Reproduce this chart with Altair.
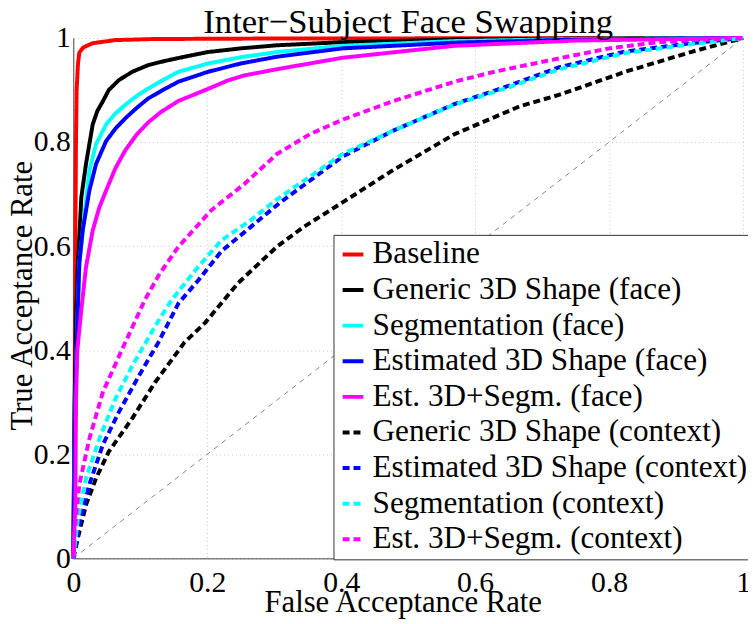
import altair as alt
import pandas as pd

series_names = [
    "Baseline",
    "Generic 3D Shape (face)",
    "Segmentation (face)",
    "Estimated 3D Shape (face)",
    "Est. 3D+Segm. (face)",
    "Generic 3D Shape (context)",
    "Estimated 3D Shape (context)",
    "Segmentation (context)",
    "Est. 3D+Segm. (context)",
]
series_colors = ["#ff0000", "#000000", "#00ffff", "#0000ff", "#ff00ff",
                 "#000000", "#0000ff", "#00ffff", "#ff00ff"]
series_dashes = [[1, 0]] * 5 + [[7, 4]] * 4

baseline_x = [0, 0.002, 0.003, 0.004, 0.005, 0.007, 0.009, 0.015, 0.029, 0.063, 0.12, 0.3, 1.0]
baseline_y = [0, 0.3, 0.6, 0.8, 0.9, 0.95, 0.972, 0.982, 0.99, 0.996, 0.998, 0.999, 1.0]

gen_face_x = [0, 0.002, 0.0044, 0.007, 0.012, 0.019, 0.029, 0.036, 0.044, 0.053, 0.068, 0.088, 0.112, 0.137, 0.166, 0.201, 0.25, 0.304, 0.402, 0.569, 0.75, 1.0]
gen_face_y = [0, 0.3, 0.478, 0.567, 0.694, 0.758, 0.834, 0.86, 0.878, 0.9, 0.919, 0.935, 0.948, 0.956, 0.964, 0.973, 0.98, 0.986, 0.992, 0.997, 0.999, 1.0]

seg_face_x = [0, 0.003, 0.006, 0.009, 0.017, 0.024, 0.034, 0.049, 0.063, 0.078, 0.095, 0.112, 0.135, 0.157, 0.201, 0.25, 0.304, 0.402, 0.569, 0.75, 1.0]
seg_face_y = [0, 0.3, 0.45, 0.567, 0.663, 0.745, 0.796, 0.834, 0.855, 0.872, 0.889, 0.903, 0.92, 0.935, 0.951, 0.963, 0.973, 0.985, 0.994, 0.998, 1.0]

est_face_x = [0, 0.003, 0.006, 0.009, 0.014, 0.024, 0.034, 0.049, 0.063, 0.078, 0.095, 0.112, 0.135, 0.157, 0.201, 0.25, 0.304, 0.402, 0.569, 0.75, 1.0]
est_face_y = [0, 0.3, 0.45, 0.567, 0.630, 0.707, 0.758, 0.802, 0.826, 0.846, 0.866, 0.884, 0.901, 0.916, 0.935, 0.951, 0.964, 0.980, 0.991, 0.997, 1.0]

estseg_face_x = [0, 0.003, 0.004, 0.006, 0.012, 0.019, 0.029, 0.039, 0.05, 0.063, 0.078, 0.095, 0.112, 0.13, 0.157, 0.201, 0.23, 0.255, 0.304, 0.402, 0.569, 0.75, 1.0]
estseg_face_y = [0, 0.1, 0.3, 0.4, 0.478, 0.56, 0.63, 0.675, 0.71, 0.75, 0.785, 0.815, 0.838, 0.857, 0.879, 0.902, 0.918, 0.928, 0.940, 0.962, 0.985, 0.995, 1.0]

gen_ctx_x = [0, 0.007, 0.019, 0.034, 0.053, 0.088, 0.122, 0.166, 0.197, 0.246, 0.304, 0.344, 0.402, 0.476, 0.569, 0.667, 0.726, 0.824, 0.922, 1.0]
gen_ctx_y = [0, 0.04, 0.103, 0.154, 0.205, 0.269, 0.338, 0.415, 0.453, 0.529, 0.599, 0.637, 0.684, 0.745, 0.815, 0.869, 0.891, 0.935, 0.973, 1.0]

est_ctx_x = [0, 0.009, 0.024, 0.044, 0.068, 0.098, 0.127, 0.157, 0.187, 0.221, 0.265, 0.309, 0.402, 0.476, 0.569, 0.643, 0.726, 0.824, 0.922, 1.0]
est_ctx_y = [0, 0.065, 0.142, 0.218, 0.281, 0.351, 0.415, 0.49, 0.535, 0.59, 0.637, 0.684, 0.772, 0.821, 0.873, 0.905, 0.944, 0.974, 0.99, 1.0]

seg_ctx_x = [0, 0.007, 0.019, 0.039, 0.063, 0.088, 0.122, 0.147, 0.187, 0.221, 0.265, 0.304, 0.402, 0.476, 0.569, 0.643, 0.726, 0.824, 0.922, 1.0]
seg_ctx_y = [0, 0.078, 0.154, 0.230, 0.307, 0.370, 0.446, 0.497, 0.561, 0.611, 0.650, 0.690, 0.777, 0.821, 0.872, 0.902, 0.940, 0.971, 0.988, 1.0]

estseg_ctx_x = [0, 0.002, 0.009, 0.024, 0.044, 0.073, 0.107, 0.128, 0.157, 0.206, 0.255, 0.304, 0.353, 0.402, 0.476, 0.569, 0.628, 0.726, 0.8, 0.873, 0.971, 1.0]
estseg_ctx_y = [0, 0.053, 0.142, 0.230, 0.319, 0.402, 0.497, 0.545, 0.599, 0.669, 0.719, 0.777, 0.815, 0.843, 0.878, 0.916, 0.935, 0.961, 0.980, 0.992, 0.999, 1.0]

all_x = [baseline_x, gen_face_x, seg_face_x, est_face_x, estseg_face_x,
         gen_ctx_x, est_ctx_x, seg_ctx_x, estseg_ctx_x]
all_y = [baseline_y, gen_face_y, seg_face_y, est_face_y, estseg_face_y,
         gen_ctx_y, est_ctx_y, seg_ctx_y, estseg_ctx_y]

tick_values = [0, 0.2, 0.4, 0.6, 0.8, 1.0]

rows = []
for name, xs, ys in zip(series_names, all_x, all_y):
    for i, (xv, yv) in enumerate(zip(xs, ys)):
        rows.append({"series": name, "far": xv, "tar": yv, "idx": i})
df = pd.DataFrame(rows)

diag = pd.DataFrame({"x": [0.0], "y": [0.0], "x2": [1.0], "y2": [1.0]})

FONT = "Liberation Serif"

xscale = alt.Scale(domain=[0, 1], nice=False, zero=False)
yscale = alt.Scale(domain=[0, 1], nice=False, zero=False)

x_axis = alt.Axis(values=tick_values, format="~g", title="False Acceptance Rate",
                  labelPadding=9, titleX=333, titleY=45, titleBaseline="middle",
                  titleAlign="center")
y_axis = alt.Axis(values=tick_values, format="~g", title="True Acceptance Rate",
                  labelPadding=3, titleX=-51, titleY=260, titleAngle=270,
                  titleBaseline="middle", titleAlign="center")

diag_layer = alt.Chart(diag).mark_rule(
    color="#666666", strokeWidth=0.8, strokeDash=[5, 5]
).encode(
    x=alt.X("x:Q", scale=xscale, axis=x_axis),
    y=alt.Y("y:Q", scale=yscale, axis=y_axis),
    x2="x2:Q",
    y2="y2:Q",
)

legend = alt.Legend(
    orient="none", legendX=263, legendY=199, title=None, direction="vertical",
    labelFont=FONT, labelFontSize=31.5, labelLimit=600, labelColor="black",
    symbolType="stroke", symbolSize=441, symbolStrokeWidth=4,
    strokeColor="#333333", fillColor="white", padding=4, rowPadding=3,
    labelOffset=4, cornerRadius=0,
)

lines = alt.Chart(df).mark_line(strokeWidth=4, strokeCap="butt", strokeJoin="round").encode(
    x=alt.X("far:Q", scale=xscale, axis=x_axis),
    y=alt.Y("tar:Q", scale=yscale, axis=y_axis),
    color=alt.Color("series:N", scale=alt.Scale(domain=series_names, range=series_colors),
                    legend=legend, sort=series_names),
    strokeDash=alt.StrokeDash("series:N", scale=alt.Scale(domain=series_names, range=series_dashes),
                              legend=legend, sort=series_names),
    order="idx:Q",
)

chart = alt.layer(diag_layer, lines).properties(
    width=677, height=526,
    padding={"left": 66, "top": 27, "right": 5, "bottom": 60},
    autosize=alt.AutoSizeParams(type="none"),
    title=alt.Title("Inter\u2212Subject Face Swapping", font=FONT, fontSize=35,
                    fontWeight="normal", color="black", anchor="middle", offset=6, dy=23),
    background="white",
).configure_view(stroke=None).configure_axis(
    labelFont=FONT, labelFontSize=30, labelColor="black", labelFlush=False,
    titleFont=FONT, titleFontSize=31, titleFontWeight="normal", titleColor="black",
    ticks=False, domainColor="#444444", domainWidth=1,
    grid=True, gridColor="#c4c4c4", gridDash=[1, 3], gridWidth=1,
).configure_legend(
    labelFont=FONT, labelFontSize=31.5, labelColor="black", labelLimit=600,
)

chart.save("out.html", embed_options={"renderer": "svg", "actions": False})
